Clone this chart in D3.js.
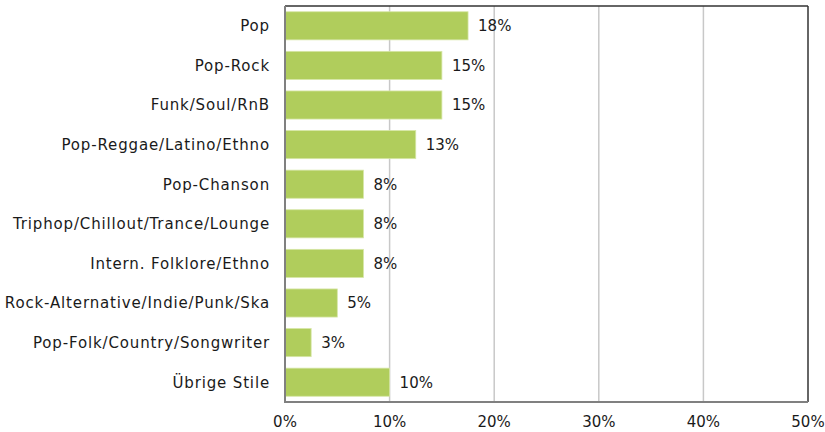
<!DOCTYPE html>
<html><head><meta charset="utf-8">
<script src="https://cdn.jsdelivr.net/npm/d3@7"></script>
<style>body{margin:0;background:#fff}svg{display:block}text{font-family:"DejaVu Sans",sans-serif;fill:#1a1a1a}</style>
</head><body><svg id="c" width="825" height="432"></svg>
<script>
const categories = ["Pop","Pop-Rock","Funk/Soul/RnB","Pop-Reggae/Latino/Ethno","Pop-Chanson","Triphop/Chillout/Trance/Lounge","Intern. Folklore/Ethno","Rock-Alternative/Indie/Punk/Ska","Pop-Folk/Country/Songwriter","Übrige Stile"];
const values = [17.5,15,15,12.5,7.5,7.5,7.5,5,2.5,10];
const valueLabels = ["18%","15%","15%","13%","8%","8%","8%","5%","3%","10%"];
const xTicks = [0,10,20,30,40,50];
const xTickLabels = ["0%","10%","20%","30%","40%","50%"];

const svg = d3.select("#c");
const L=285, R=808, T=6, B=402;
const FS=15;
const x = d3.scaleLinear().domain([0,50]).range([L,R]);
const y = d3.scaleBand().domain(categories).range([T,B]).paddingInner(0.29).paddingOuter(0.145);

svg.append("g").selectAll("line").data(xTicks.slice(1,-1)).join("line")
  .attr("x1",d=>x(d)).attr("x2",d=>x(d)).attr("y1",T).attr("y2",B)
  .attr("stroke","#c8c8c8").attr("stroke-width",1.5);

svg.append("g").selectAll("rect").data(values).join("rect")
  .attr("x",x(0)).attr("y",(d,i)=>y(categories[i]))
  .attr("width",d=>x(d)-x(0)).attr("height",y.bandwidth())
  .attr("fill","#b0cd5c").attr("stroke","#d6e6a6").attr("stroke-width",0.8);

// frame
svg.append("line").attr("x1",L).attr("x2",R).attr("y1",T).attr("y2",T).attr("stroke","#333").attr("stroke-width",1.5);
svg.append("line").attr("x1",R).attr("x2",R).attr("y1",T).attr("y2",B).attr("stroke","#333").attr("stroke-width",1.5);
svg.append("line").attr("x1",L).attr("x2",R).attr("y1",B).attr("y2",B).attr("stroke","#808080").attr("stroke-width",2);
svg.append("line").attr("x1",L).attr("x2",L).attr("y1",T).attr("y2",B+1).attr("stroke","#808080").attr("stroke-width",2);

svg.append("g").selectAll("text").data(valueLabels).join("text")
  .attr("x",(d,i)=>x(values[i])+10).attr("y",(d,i)=>y(categories[i])+y.bandwidth()/2)
  .attr("dy","0.36em").attr("font-size",FS).text(d=>d);

svg.append("g").selectAll("text").data(categories).join("text")
  .attr("x",L-15).attr("y",d=>y(d)+y.bandwidth()/2).attr("dy","0.36em")
  .attr("text-anchor","end").attr("font-size",FS).attr("letter-spacing","0.85px").text(d=>d);

svg.append("g").selectAll("text").data(xTicks).join("text")
  .attr("x",d=>x(d)).attr("y",B+25).attr("text-anchor","middle").attr("font-size",FS)
  .text((d,i)=>xTickLabels[i]);
</script></body></html>
